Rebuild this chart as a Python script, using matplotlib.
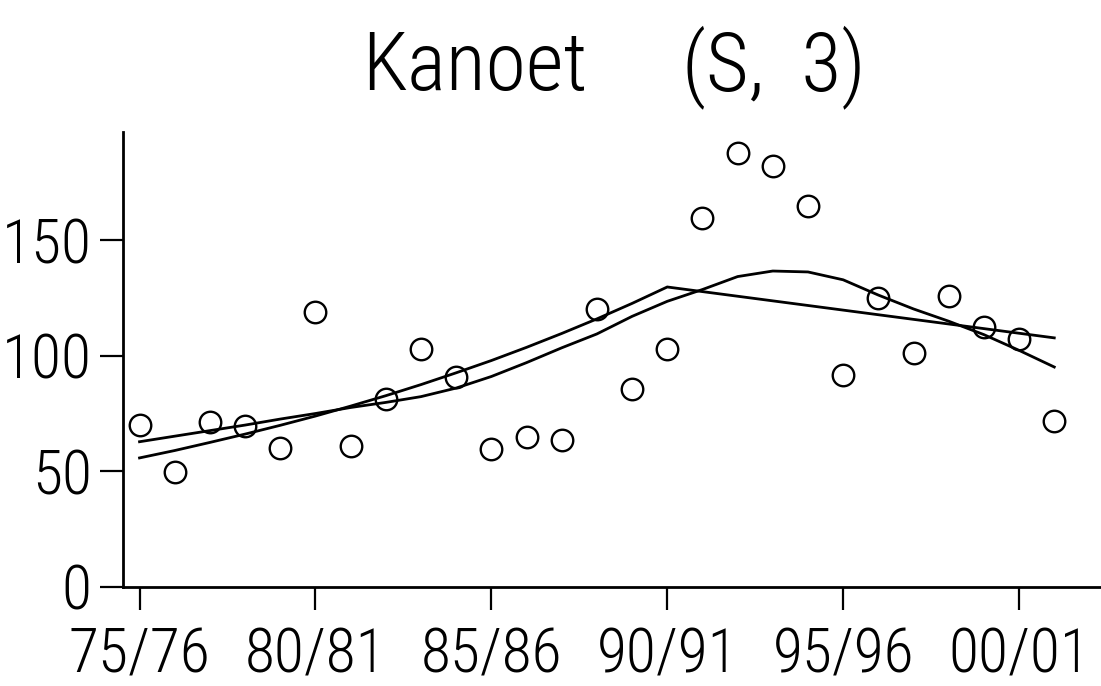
import os
import matplotlib
matplotlib.use("Agg")
import matplotlib.pyplot as plt
from matplotlib import font_manager as fm

# seasons 75/76 .. 01/02, one value per season
years = list(range(1975, 2002))
catch = [70.0, 49.6, 71.5, 69.7, 60.0, 118.9, 61.1, 81.3, 102.9, 90.9,
         59.5, 65.0, 63.6, 120.1, 85.5, 102.9, 159.7, 187.5, 182.0, 164.7,
         91.7, 124.8, 101.0, 125.8, 112.5, 107.1, 71.9]

# smoothed trend
smooth = [62.8, 65.2, 67.6, 70.0, 72.6, 75.0, 77.6, 79.8, 82.3, 86.0,
          91.0, 97.0, 103.4, 109.4, 117.0, 123.5, 128.6, 134.2, 136.6, 136.2,
          132.8, 126.2, 120.2, 114.9, 109.1, 102.3, 95.1]

# two-piece model, break in 90/91
model = [55.8, 59.0, 62.5, 66.1, 69.9, 73.9, 78.2, 82.7, 87.5, 92.6,
         97.9, 103.6, 109.6, 115.9, 122.6, 129.7, 127.7, 125.7, 123.7, 121.7,
         119.7, 117.7, 115.7, 113.7, 111.7, 109.7, 107.7]

xticks = [1975, 1980, 1985, 1990, 1995, 2000]
xticklabels = ["75/76", "80/81", "85/86", "90/91", "95/96", "00/01"]
yticks = [0, 50, 100, 150]

species = "Kanoet"
code = "(S,  3)"


def pick_font():
    # narrow faces first, plain condensed DejaVu as the usual fallback
    wanted = ["RobotoCondensed-Light.", "OpenSans-CondLight.",
              "OpenSansCondensed-Light.", "LiberationSansNarrow-Regular.",
              "RobotoCondensed-Regular.", "DejaVuSansCondensed."]
    files = {os.path.basename(f.fname): f.fname for f in fm.fontManager.ttflist}
    for w in wanted:
        for base, fn in files.items():
            if base.startswith(w):
                return fn
    return None


fname = pick_font()


def fp(size):
    if fname:
        return fm.FontProperties(fname=fname, size=size)
    return fm.FontProperties(family="DejaVu Sans", size=size)


fig = plt.figure(figsize=(11.01, 6.86), dpi=100)
renderer = fig.canvas.get_renderer()


def width_at(s, size):
    t = fig.text(0, 0, s, fontproperties=fp(size))
    w = t.get_window_extent(renderer).width
    t.remove()
    return w


# size the lettering by its width, capped by its height
tick_size = min(45, 45 * 142 / width_at("75/76", 45))
title_size = min(62, 62 * 225 / width_at(species, 62))

ax = fig.add_axes([123 / 1101, 99 / 686, (1100 - 123) / 1101, (587 - 132) / 686])

ax.plot(years, smooth, color="black", lw=2.0, solid_joinstyle="round")
ax.plot(years, model, color="black", lw=2.0, solid_joinstyle="miter")
ax.plot(years, catch, "o", ms=15.5, mfc="none", mec="black", mew=1.7)

ax.set_xlim(1974.53, 2002.3)
ax.set_ylim(0, 196.7)

for s in ["top", "right"]:
    ax.spines[s].set_visible(False)
for s in ["left", "bottom"]:
    ax.spines[s].set_linewidth(2.0)

ax.set_xticks(xticks)
ax.set_yticks(yticks)
ax.set_xticklabels(xticklabels, fontproperties=fp(tick_size))
ax.set_yticklabels([str(v) for v in yticks], fontproperties=fp(tick_size))
ax.tick_params(axis="both", direction="out", length=16.5, width=1.6,
               color="black")
ax.tick_params(axis="x", pad=12)
ax.tick_params(axis="y", pad=6)

# title in two parts: name on the left, code block on the right
base_y = (686 - 90) / 686
fig.text(362 / 1101, base_y, species, ha="left", va="baseline",
         fontproperties=fp(title_size))
fig.text(866 / 1101, base_y, code, ha="right", va="baseline",
         fontproperties=fp(title_size))

fig.savefig("out.png", dpi=100)
